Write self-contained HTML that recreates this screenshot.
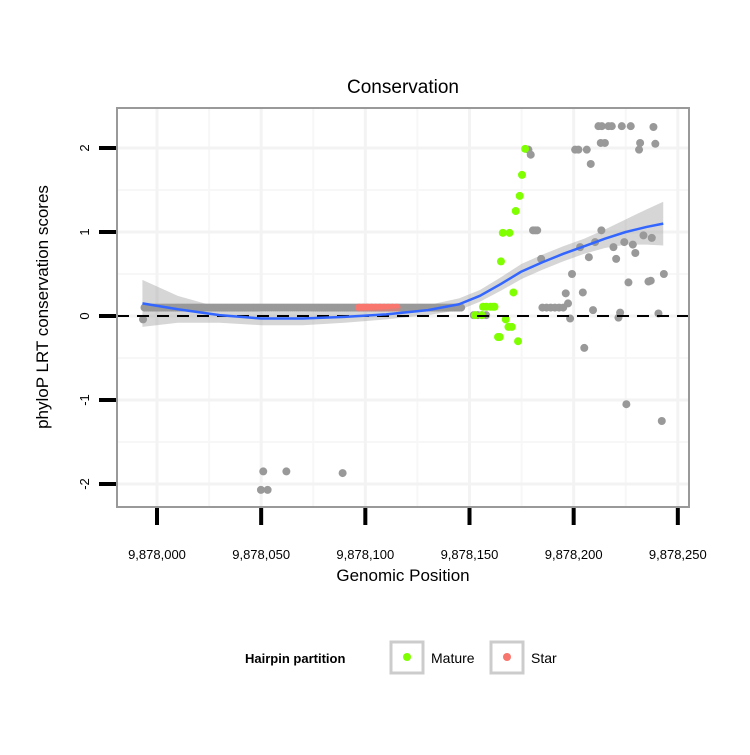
<!DOCTYPE html>
<html><head><meta charset="utf-8"><style>
body{margin:0;background:#fff;}
svg text{font-family:"Liberation Sans",sans-serif;}
</style></head><body>
<svg id="chart" width="750" height="750" viewBox="0 0 750 750" xmlns="http://www.w3.org/2000/svg">
<rect width="750" height="750" fill="#fff"/>
<g id="grid"></g>
<g id="pts"></g>
<g id="smooth"></g>
<rect x="117" y="108" width="572" height="399" fill="none" stroke="#999" stroke-width="2"/>
<g id="axes"></g>
<text x="403" y="93" text-anchor="middle" font-size="19" fill="#000">Conservation</text>
<text x="403" y="581" text-anchor="middle" font-size="17" fill="#000">Genomic Position</text>
<text transform="translate(48,307) rotate(-90)" text-anchor="middle" font-size="17" fill="#000">phyloP LRT conservation scores</text>
<g>
<text x="245" y="663" font-size="13" font-weight="bold">Hairpin partition</text>
<g>
<rect x="391" y="642" width="32" height="31" fill="#fff" stroke="#ccc" stroke-width="3"/>
<circle cx="407" cy="657" r="4" fill="#7fff00"/>
<text x="431" y="663" font-size="14">Mature</text></g>
<g>
<rect x="491" y="642" width="32" height="31" fill="#fff" stroke="#ccc" stroke-width="3"/>
<circle cx="507" cy="657" r="4" fill="#f8766d"/>
<text x="531" y="663" font-size="14">Star</text></g>
</g>
</svg>
<script>
const xTicks=[0,50,100,150,200,250];
const xTickLabels=["9,878,000","9,878,050","9,878,100","9,878,150","9,878,200","9,878,250"];
const yTicks=[-2,-1,0,1,2];
const yTickLabels=["-2","-1","0","1","2"];
const greyPos=[-6.7,51,62.1,89.1,49.9,53.1,178.3,179.4,211.9,213.5,216.7,218.3,223.1,227.4,238.3,213,215,200.7,202.3,206.3,208.2,231.9,231.4,239.2,180.5,181.5,182.5,213.3,184.4,210.3,203.1,207.3,219.1,220.4,224.3,228.4,229.6,233.5,237.5,199.2,196.2,204.4,197.3,185,187,189,191,193,195,209.3,198.3,222.3,221.5,226.3,235.9,237,243.3,240.7,205.1,225.3,242.3,152,154,156,158];
const greyVal=[-0.04,-1.85,-1.85,-1.87,-2.07,-2.07,1.98,1.92,2.26,2.26,2.26,2.26,2.26,2.26,2.25,2.06,2.06,1.98,1.98,1.98,1.81,2.06,1.98,2.05,1.02,1.02,1.02,1.02,0.68,0.88,0.82,0.7,0.82,0.68,0.88,0.85,0.75,0.96,0.93,0.5,0.27,0.28,0.15,0.1,0.1,0.1,0.1,0.1,0.1,0.07,-0.03,0.04,-0.02,0.4,0.41,0.42,0.5,0.03,-0.38,-1.05,-1.25,0.01,0.01,0.01,0.01];
const rowStart=-6,rowEnd=146,rowVal=0.1;
const starPos=[97,99,101,103,105,107,109,111,113,115];
const starVal=[0.1,0.1,0.1,0.1,0.1,0.1,0.1,0.1,0.1,0.1];
const maturePos=[176.7,175.2,174.1,172.2,166,169.2,165.1,171.1,156.5,158,160,161.3,162,152.7,155.9,167.4,168.7,170.3,163.7,164.5,173.3];
const matureVal=[1.99,1.68,1.43,1.25,0.99,0.99,0.65,0.28,0.11,0.11,0.11,0.11,0.11,0.01,0.01,-0.04,-0.13,-0.13,-0.25,-0.25,-0.3];
const fitPos=[-7,10,30,50,70,90,110,130,145,155,165,175,185,195,205,215,225,235,243];
const fitVal=[0.15,0.08,0.01,-0.03,-0.03,-0.01,0.02,0.07,0.14,0.24,0.38,0.53,0.64,0.74,0.83,0.92,1.0,1.06,1.1];
const fitSE=[0.28,0.16,0.09,0.08,0.08,0.07,0.06,0.06,0.07,0.07,0.08,0.09,0.09,0.09,0.09,0.11,0.15,0.21,0.26];
const NS="http://www.w3.org/2000/svg";
const X=v=>157+v*2.0833, Y=v=>316-v*84;
function mk(p,t,a){const e=document.createElementNS(NS,t);for(const k in a)e.setAttribute(k,a[k]);p.appendChild(e);return e;}
const grid=document.getElementById('grid');
for(let i=0;i<xTicks.length-1;i++){const m=(xTicks[i]+xTicks[i+1])/2;mk(grid,'line',{x1:X(m),x2:X(m),y1:108,y2:507,stroke:'#f7f7f7','stroke-width':2});}
for(let i=0;i<yTicks.length-1;i++){const m=(yTicks[i]+yTicks[i+1])/2;mk(grid,'line',{x1:117,x2:689,y1:Y(m),y2:Y(m),stroke:'#f7f7f7','stroke-width':2});}
xTicks.forEach(t=>{const l=mk(grid,'line',{x1:X(t),x2:X(t),y1:108,y2:507,stroke:'#f3f3f3','stroke-width':3});

});
yTicks.forEach(t=>{const l=mk(grid,'line',{x1:117,x2:689,y1:Y(t),y2:Y(t),stroke:'#f3f3f3','stroke-width':3});

});
const pts=document.getElementById('pts');
for(let p=rowStart;p<=rowEnd;p+=1){const c=mk(pts,'circle',{cx:X(p),cy:Y(rowVal),r:4,fill:'#999'});

}
greyPos.forEach((p,i)=>{const c=mk(pts,'circle',{cx:X(p),cy:Y(greyVal[i]),r:4,fill:'#999'});

});
starPos.forEach((p,i)=>{const c=mk(pts,'circle',{cx:X(p),cy:Y(starVal[i]),r:4,fill:'#f8766d'});

});
maturePos.forEach((p,i)=>{const c=mk(pts,'circle',{cx:X(p),cy:Y(matureVal[i]),r:4,fill:'#7fff00'});

});
const sm=document.getElementById('smooth');
let up=fitPos.map((p,i)=>X(p)+','+Y(fitVal[i]+fitSE[i]));
let lo=fitPos.map((p,i)=>X(p)+','+Y(fitVal[i]-fitSE[i])).reverse();
const band=mk(sm,'polygon',{points:up.concat(lo).join(' '),fill:'#999','fill-opacity':0.4});


const hl=mk(sm,'line',{x1:117,x2:689,y1:Y(0),y2:Y(0),stroke:'#000','stroke-width':2,'stroke-dasharray':'12,8'});


const fl=mk(sm,'polyline',{points:fitPos.map((p,i)=>X(p)+','+Y(fitVal[i])).join(' '),fill:'none',stroke:'#3366ff','stroke-width':2.5,'stroke-linejoin':'round'});


const ax=document.getElementById('axes');
xTicks.forEach((t,i)=>{mk(ax,'line',{x1:X(t),x2:X(t),y1:508,y2:525,stroke:'#000','stroke-width':4});
const tx=mk(ax,'text',{x:X(t),y:559,'text-anchor':'middle','font-size':13});tx.textContent=xTickLabels[i];

});
yTicks.forEach((t,i)=>{mk(ax,'line',{x1:99,x2:116,y1:Y(t),y2:Y(t),stroke:'#000','stroke-width':4});
const tx=mk(ax,'text',{transform:`translate(89,${Y(t)}) rotate(-90)`,'text-anchor':'middle','font-size':13});tx.textContent=yTickLabels[i];

});
</script>
</body></html>
